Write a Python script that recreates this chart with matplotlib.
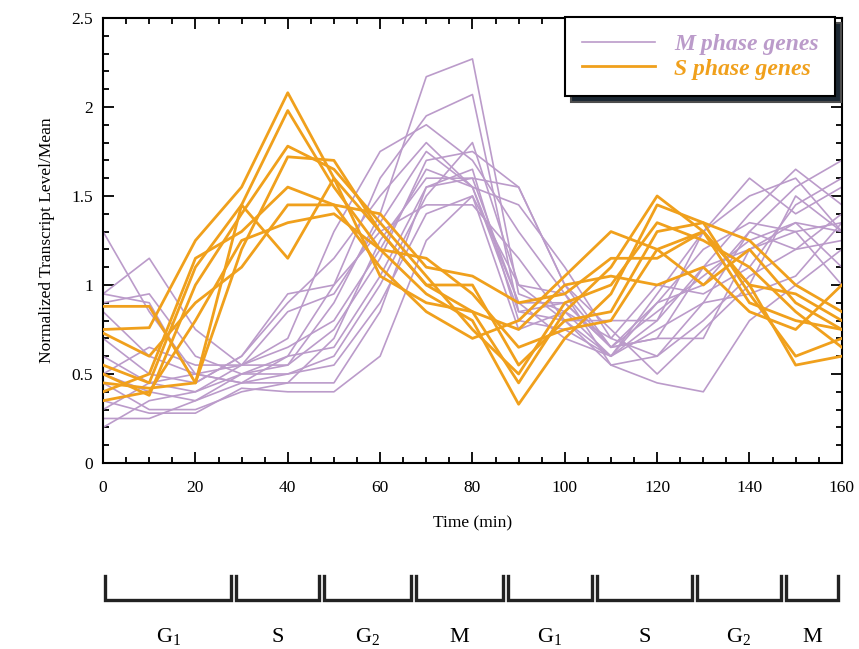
import matplotlib
matplotlib.use("Agg")
import matplotlib.pyplot as plt
import matplotlib.ticker as mticker

plt.rcParams["font.family"] = ["Liberation Serif", "DejaVu Serif"]
plt.rcParams["mathtext.fontset"] = "custom"
plt.rcParams["mathtext.rm"] = "Liberation Serif"

# sampling times (min)
time_min = [0, 10, 20, 30, 40, 50, 60, 70, 80, 90, 100, 110, 120, 130, 140, 150, 160]

# M phase genes, normalised to their own mean
m_phase = [
    [1.30, 0.85, 0.50, 0.45, 0.45, 0.70, 1.25, 1.60, 1.60, 1.55, 1.00, 0.65, 0.70, 1.10, 1.40, 1.65, 1.45],
    [0.95, 1.15, 0.75, 0.55, 0.55, 0.90, 1.40, 2.17, 2.27, 0.95, 0.85, 0.60, 0.90, 1.00, 1.30, 1.55, 1.70],
    [0.90, 0.95, 0.60, 0.50, 0.60, 1.00, 1.60, 1.95, 2.07, 0.85, 0.80, 0.60, 0.80, 1.30, 1.50, 1.60, 1.30],
    [0.85, 0.60, 0.50, 0.55, 0.70, 1.30, 1.75, 1.90, 1.70, 1.30, 0.95, 0.65, 0.70, 0.70, 1.20, 1.30, 1.35],
    [0.70, 0.50, 0.45, 0.60, 0.90, 1.15, 1.50, 1.80, 1.55, 1.45, 1.10, 0.70, 0.60, 0.80, 1.05, 1.20, 1.40],
    [0.60, 0.45, 0.40, 0.50, 0.55, 0.75, 1.15, 1.70, 1.75, 1.55, 1.00, 0.75, 0.50, 0.75, 1.00, 1.50, 1.30],
    [0.50, 0.40, 0.35, 0.45, 0.50, 0.60, 1.00, 1.50, 1.80, 1.00, 0.80, 0.55, 0.45, 0.40, 0.80, 1.00, 1.20],
    [0.45, 0.30, 0.30, 0.40, 0.45, 0.45, 0.85, 1.55, 1.65, 0.80, 0.75, 0.60, 0.95, 1.30, 1.60, 1.40, 1.55],
    [0.35, 0.28, 0.28, 0.42, 0.40, 0.40, 0.60, 1.25, 1.50, 0.75, 0.85, 0.70, 1.00, 0.95, 1.10, 1.45, 1.60],
    [0.30, 0.45, 0.50, 0.45, 0.60, 0.65, 1.05, 1.55, 1.60, 0.90, 0.90, 0.65, 0.85, 1.05, 1.25, 1.35, 1.10],
    [0.25, 0.25, 0.35, 0.50, 0.50, 0.55, 0.90, 1.40, 1.50, 1.00, 0.95, 0.55, 0.60, 0.90, 1.30, 1.20, 1.25],
    [0.20, 0.35, 0.40, 0.55, 0.65, 0.80, 1.20, 1.65, 1.55, 0.90, 0.70, 0.60, 0.75, 0.90, 0.95, 1.05, 1.35],
    [0.95, 0.90, 0.45, 0.60, 0.95, 1.00, 1.30, 1.45, 1.45, 1.15, 0.80, 0.80, 0.80, 1.10, 1.20, 1.35, 1.30],
    [0.50, 0.65, 0.55, 0.55, 0.85, 0.95, 1.35, 1.75, 1.55, 0.85, 0.90, 0.65, 0.90, 1.20, 1.35, 1.30, 1.00],
]

# S phase genes
s_phase = [
    [0.75, 0.76, 1.25, 1.55, 2.08, 1.60, 1.30, 1.00, 0.85, 0.45, 0.85, 1.10, 1.50, 1.30, 1.00, 0.55, 0.60],
    [0.55, 0.45, 1.10, 1.45, 1.98, 1.55, 1.20, 0.95, 0.80, 0.33, 0.70, 0.95, 1.45, 1.35, 0.95, 0.60, 0.70],
    [0.50, 0.38, 1.00, 1.40, 1.78, 1.65, 1.35, 1.05, 0.75, 0.50, 0.90, 1.00, 1.35, 1.25, 1.10, 0.85, 0.65],
    [0.88, 0.88, 0.45, 1.20, 1.72, 1.70, 1.30, 1.00, 1.00, 0.55, 0.80, 0.85, 1.30, 1.35, 1.25, 1.00, 0.85],
    [0.40, 0.50, 1.15, 1.30, 1.55, 1.45, 1.10, 0.85, 0.70, 0.80, 1.05, 1.30, 1.20, 1.30, 0.90, 0.80, 0.75],
    [0.45, 0.42, 0.45, 1.45, 1.15, 1.60, 1.05, 0.90, 0.85, 0.75, 1.00, 1.05, 1.00, 1.10, 0.85, 0.75, 1.00],
    [0.73, 0.60, 0.90, 1.10, 1.45, 1.45, 1.40, 1.10, 1.05, 0.90, 0.95, 1.15, 1.15, 1.30, 1.00, 0.95, 0.80],
    [0.35, 0.40, 0.80, 1.25, 1.35, 1.40, 1.20, 1.15, 0.95, 0.65, 0.75, 0.80, 1.20, 1.00, 1.20, 0.90, 0.75],
]

# cell-cycle phases along the time axis
phase_names = ["G$_1$", "S", "G$_2$", "M", "G$_1$", "S", "G$_2$", "M"]
phase_start = [0.5, 28.8, 47.8, 67.7, 87.7, 106.9, 128.6, 147.9]
phase_end   = [27.7, 46.8, 66.7, 86.6, 105.8, 127.5, 146.8, 159.1]

M_COLOR = "#bb9bca"
S_COLOR = "#f0a01c"

fig = plt.figure(figsize=(8.59, 6.49), dpi=100)
ax = fig.add_axes([0.120, 0.2866, 0.860, 0.6857])

for i, series in enumerate(m_phase):
    ax.plot(time_min, series, color=M_COLOR, lw=1.2,
            label="M phase genes" if i == 0 else None, zorder=2)
for i, series in enumerate(s_phase):
    ax.plot(time_min, series, color=S_COLOR, lw=2.0,
            label="S phase genes" if i == 0 else None, zorder=3)

ax.set_xlim(0, 160)
ax.set_ylim(0, 2.5)
ax.xaxis.set_major_locator(mticker.MultipleLocator(20))
ax.xaxis.set_minor_locator(mticker.MultipleLocator(5))
ax.yaxis.set_major_locator(mticker.MultipleLocator(0.5))
ax.yaxis.set_minor_locator(mticker.MultipleLocator(0.1))
ax.yaxis.set_major_formatter(mticker.FuncFormatter(lambda v, _: f"{v:g}"))
ax.tick_params(which="both", direction="in", top=True, right=True, width=1.3)
ax.tick_params(which="major", length=8, labelsize=12.5)
ax.tick_params(which="minor", length=4)
ax.tick_params(axis="x", pad=12)
ax.tick_params(axis="y", pad=7)
for sp in ax.spines.values():
    sp.set_linewidth(1.5)

ax.set_xlabel("Time (min)", fontsize=12.5, labelpad=14)
ax.set_ylabel("Normalized Transcript Level/Mean", fontsize=12.5, labelpad=12)

leg = ax.legend(loc="upper right", bbox_to_anchor=(0.991, 1.002), borderaxespad=0,
                frameon=True, fancybox=False, edgecolor="black", framealpha=1,
                shadow={"ox": 4, "oy": -4, "facecolor": "#1c2833", "alpha": 1},
                handlelength=3.1, handletextpad=0.8, borderpad=0.7, labelspacing=0.12,
                prop={"style": "italic", "weight": "bold", "size": 17},
                labelcolor="linecolor")
leg.get_frame().set_linewidth(1.5)
leg.set_zorder(10)

# phase bar underneath the time axis
pax = fig.add_axes([0.120, 0.075, 0.860, 0.038])
pax.set_xlim(0, 160)
pax.set_ylim(0, 1)
pax.axis("off")
for name, a, b in zip(phase_names, phase_start, phase_end):
    pax.plot([a, a, b, b], [1, 0, 0, 1], color="#222222", lw=2.4,
             solid_joinstyle="miter", clip_on=False)
    pax.text((a + b) / 2, -1.5, name, ha="center", va="center", fontsize=16)

fig.savefig("out.png", dpi=100)
